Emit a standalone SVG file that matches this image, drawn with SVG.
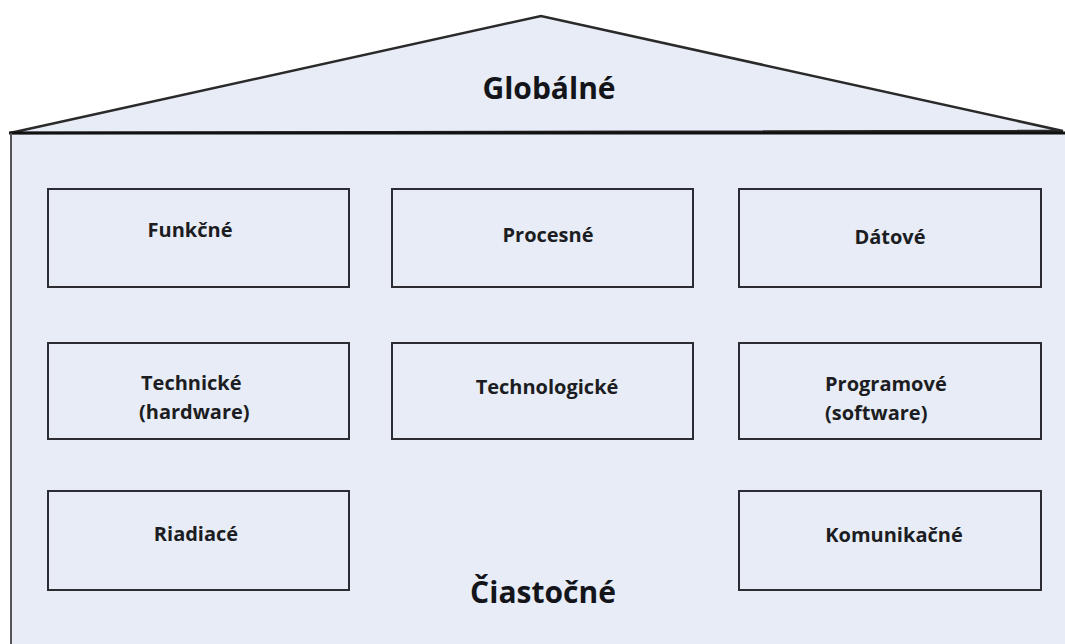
<svg xmlns="http://www.w3.org/2000/svg" width="1065" height="644" viewBox="0 0 1065 644">
<style>
.fill{fill:#e7ecf6}
.box{fill:#e7ecf6;stroke:#2b2d33;stroke-width:2}
.t{font-family:"Open Sans","Liberation Sans",sans-serif;font-weight:700;font-size:20px;fill:#1c1d22}
.big{font-family:"Open Sans","Liberation Sans",sans-serif;font-weight:700;font-size:30px;fill:#14151a}
</style>
<rect width="1065" height="644" fill="#ffffff"/>
<g id="house">
<rect class="fill" x="11" y="133" width="1054" height="511"/>
<polygon class="fill" points="10,133 541,16 1063,131" stroke="#2a2a2a" stroke-width="2.5" stroke-linejoin="miter"/>
<line x1="9" y1="133" x2="1065" y2="133" stroke="#111" stroke-width="3"/>
<line x1="11" y1="133" x2="11" y2="644" stroke="#555" stroke-width="2"/>
<text class="big" x="549" y="99" text-anchor="middle">Globálné</text>
<text class="big" x="543" y="603" text-anchor="middle">Čiastočné</text>
</g>
<g id="funkcne"><rect class="box" x="48" y="189" width="301" height="98"/><text class="t" x="190" y="237" text-anchor="middle">Funkčné</text></g>
<g id="procesne"><rect class="box" x="392" y="189" width="301" height="98"/><text class="t" x="548" y="242" text-anchor="middle">Procesné</text></g>
<g id="datove"><rect class="box" x="739" y="189" width="302" height="98"/><text class="t" x="890" y="244" text-anchor="middle">Dátové</text></g>
<g id="technicke"><rect class="box" x="48" y="343" width="301" height="96"/><text class="t" x="141" y="390">Technické</text><text class="t" x="139" y="419">(hardware)</text></g>
<g id="technologicke"><rect class="box" x="392" y="343" width="301" height="96"/><text class="t" x="547" y="394" text-anchor="middle">Technologické</text></g>
<g id="programove"><rect class="box" x="739" y="343" width="302" height="96"/><text class="t" x="825" y="391">Programové</text><text class="t" x="825" y="420">(software)</text></g>
<g id="riadiace"><rect class="box" x="48" y="491" width="301" height="99"/><text class="t" x="196" y="541" text-anchor="middle">Riadiacé</text></g>
<g id="komunikacne"><rect class="box" x="739" y="491" width="302" height="99"/><text class="t" x="894" y="542" text-anchor="middle">Komunikačné</text></g>
<g id="connectors"/>
</svg>
